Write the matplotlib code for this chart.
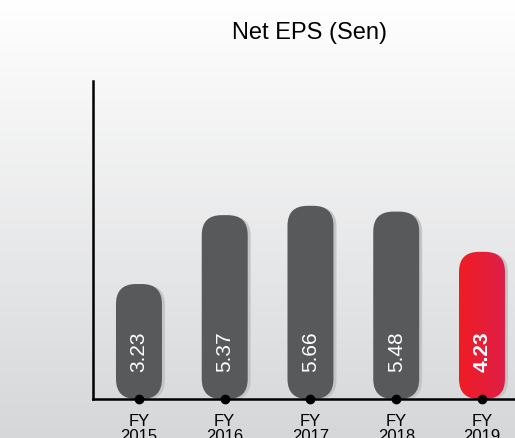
import numpy as np
import matplotlib.pyplot as plt
from matplotlib.patches import FancyBboxPatch
from matplotlib.colors import LinearSegmentedColormap

# ---- data ----
years = ['2015', '2016', '2017', '2018', '2019']
eps = [3.23, 5.37, 5.66, 5.48, 4.23]
labels = ['FY\n' + y for y in years]

plt.rcParams['font.family'] = ['Liberation Sans', 'DejaVu Sans']

W, H = 515, 439
fig = plt.figure(figsize=(W / 100, H / 100), dpi=100)

# background gradient (white -> light grey)
bg = fig.add_axes([0, 0, 1, 1], zorder=0)
grad = np.linspace(0, 1, 256).reshape(-1, 1)
bg_cmap = LinearSegmentedColormap.from_list('bg', ['#ffffff', '#d6d7d9'])
bg.imshow(grad, aspect='auto', cmap=bg_cmap, extent=[0, 1, 0, 1], origin='upper')
bg.axis('off')

ax = fig.add_axes([93 / W, 39 / H, 422 / W, 318 / H], zorder=1)
ax.patch.set_alpha(0)
base = -0.342
xlim = (-0.536, 4.385)
ylim = (base, 9.537)
ax.set_xlim(*xlim)
ax.set_ylim(*ylim)

# data units per pixel, for round corners
ux = (xlim[1] - xlim[0]) / 422
uy = (ylim[1] - ylim[0]) / 318
asp = uy / ux

w = 0.536
r = 20 * ux
box = f"round,pad=0,rounding_size={r}"

red_cmap = LinearSegmentedColormap.from_list('red', ['#ef1c24', '#de1f48'])

for i, v in enumerate(eps):
    # soft shadow
    sh = FancyBboxPatch((i - w / 2 + 3 * ux, base - 1 * uy), w, v - base,
                        boxstyle=box, mutation_aspect=asp,
                        facecolor='#c4c5c7', edgecolor='none', zorder=1)
    ax.add_patch(sh)
    last = i == len(eps) - 1
    bar = FancyBboxPatch((i - w / 2, base), w, v - base,
                         boxstyle=box, mutation_aspect=asp,
                         facecolor='none' if last else '#58595b',
                         edgecolor='none', zorder=2)
    ax.add_patch(bar)
    if last:
        g = np.linspace(0, 1, 128).reshape(1, -1)
        im = ax.imshow(g, cmap=red_cmap, aspect='auto', zorder=2,
                       extent=[i - w / 2, i + w / 2, base, v])
        im.set_clip_path(bar)
    ax.text(i, 1.15, f'{v:.2f}', rotation=90, ha='center', va='center',
            color='white', fontsize=15,
            fontweight='bold' if last else 'normal', zorder=4)

ax.set_xlim(*xlim)
ax.set_ylim(*ylim)

# dots on the axis
ax.plot(range(len(eps)), [base] * len(eps), 'o', color='black', ms=6,
        clip_on=False, zorder=5)

ax.spines['top'].set_visible(False)
ax.spines['right'].set_visible(False)
ax.spines['left'].set_linewidth(1.8)
ax.spines['bottom'].set_linewidth(1.8)
ax.set_yticks([])
ax.set_xticks(range(len(eps)))
ax.set_xticklabels(labels, fontsize=12, linespacing=1.02)
ax.tick_params(axis='x', length=0, pad=10)

fig.text(309 / W, 1 - 33 / H, 'Net EPS (Sen)', ha='center', va='center', fontsize=17)

fig.savefig('out.png', dpi=100)
